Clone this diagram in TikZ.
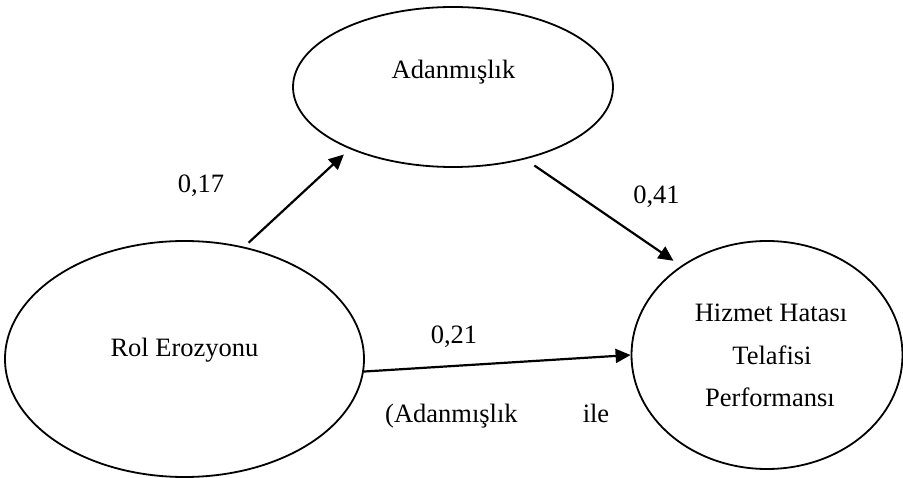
\documentclass[tikz,border=0pt]{standalone}
\usepackage{fontspec}
\setmainfont{Liberation Serif}
\usepackage{tikz}
\usetikzlibrary{arrows.meta,positioning,shapes.geometric}

\begin{document}
\begin{tikzpicture}[x=1pt,y=-1pt,
  every node/.style={font=\fontsize{26.5}{42.5}\selectfont}
]

\tikzstyle{latent}=[draw,ellipse,line width=1.8pt,inner sep=0pt]
\tikzstyle{lbl}=[inner sep=0pt,anchor=base]
\tikzset{path style/.style={line width=2.2pt,-{Triangle[length=15pt,width=14pt]}}}

\useasboundingbox (0,0) rectangle (903,478);

\node[latent,minimum width=359pt,minimum height=236pt] (rol)  at (184.5,359) {};
\node[latent,minimum width=320pt,minimum height=160pt] (adan) at (453,87)    {};
\node[latent,minimum width=271pt,minimum height=228pt] (hiz)  at (767,355)   {};

\node[lbl] (tadan) at (453.5,79)  {Adanmışlık};
\node[lbl] (trol)  at (184.5,357) {Rol Erozyonu};
\node[lbl] (thiz1) at (771,322)   {Hizmet Hatası};
\node[lbl] (thiz2) at (772,365)   {Telafisi};
\node[lbl] (thiz3) at (770,407)   {Performansı};

\node[lbl] (w1) at (201,193)   {0,17};
\node[lbl] (w2) at (656.5,204) {0,41};
\node[lbl] (w3) at (454,344)   {0,21};
\node[lbl,anchor=base west] (n1) at (385,423) {(Adanmışlık};
\node[lbl] (n2) at (596,423) {ile};

\draw[path style,shorten <=6pt,shorten >=8pt]  (rol.62)  -- (adan.211);
\draw[path style,shorten <=11pt,shorten >=9pt] (adan.315) -- (hiz.134);
\draw[path style] (rol.356) -- (hiz.west);

\end{tikzpicture}
\end{document}
